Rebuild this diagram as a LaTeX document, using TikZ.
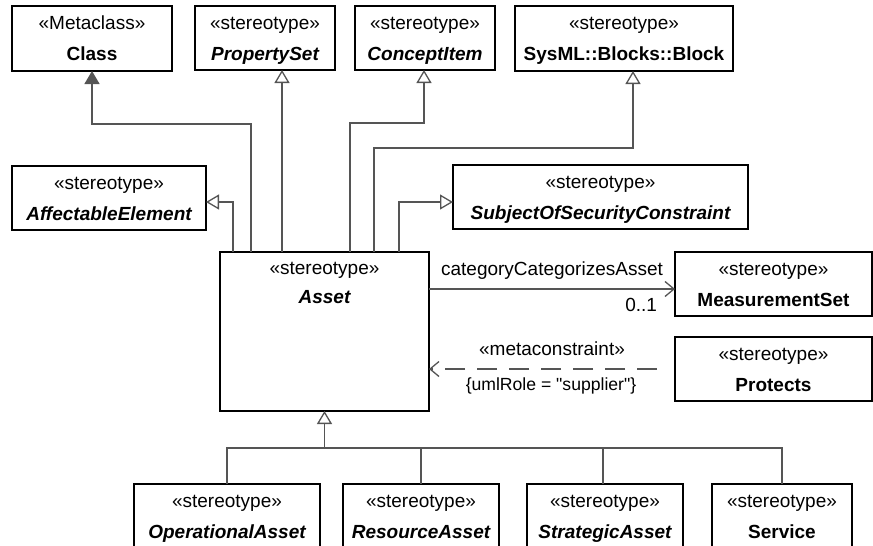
\documentclass[tikz,border=0pt]{standalone}
\usepackage{fontspec}
\setmainfont{Liberation Sans}[Ligatures=TeXOff]
\usetikzlibrary{arrows.meta,calc}
\definecolor{conn}{HTML}{555555}
\tikzset{
  box/.style={draw=black, line width=1.6pt, fill=white, inner sep=0pt, outer sep=0pt, rectangle},
  txt/.style={inner sep=0pt, outer sep=0pt, font=\fontsize{19}{22}\selectfont},
  smalltxt/.style={inner sep=0pt, outer sep=0pt, font=\fontsize{17.6}{20}\selectfont},
  conline/.style={draw=conn, line width=1.3pt},
  gen/.style={conline, -{Triangle[open, length=13pt, width=15pt]}},
  genfill/.style={conline, -{Triangle[length=13pt, width=15pt, fill=conn]}},
  assoc/.style={conline, -{Straight Barb[length=9pt, width=15pt]}},
  dep/.style={conline, dash pattern=on 20pt off 12pt, -{Straight Barb[length=9pt, width=15pt, sep=0pt]}},
}
\newcommand\umlbox[8]{%
  \node[box, minimum width=#4pt, minimum height=#5pt, anchor=north west] (#1) at (#2,#3) {};
  \node[txt, anchor=base] (#1-s) at ([yshift=-23pt]#1.north) {#6};
  \node[txt, anchor=base] (#1-t) at ([yshift=-54pt]#1.north) {\bfseries #8#7};}
\begin{document}
\begin{tikzpicture}[x=1pt, y=-1pt]
\useasboundingbox (0,0) rectangle (873,546);
% boxes
\umlbox{cls}{12}{6}{160}{65}{«Metaclass»}{Class}{}
\umlbox{pset}{195}{6}{140}{64}{«stereotype»}{PropertySet}{\itshape}
\umlbox{citem}{355}{6}{140}{64}{«stereotype»}{ConceptItem}{\itshape}
\umlbox{block}{515}{6}{218}{65}{«stereotype»}{SysML::Blocks::Block}{}
\umlbox{aff}{12}{166}{194}{64}{«stereotype»}{AffectableElement}{\itshape}
\umlbox{subj}{453}{165}{295}{64}{«stereotype»}{SubjectOfSecurityConstraint}{\itshape}
\node[box, minimum width=209pt, minimum height=159pt, anchor=north west] (asset) at (220,252) {};
\node[txt, anchor=base] (asset-s) at ([yshift=-22pt]asset.north) {«stereotype»};
\node[txt, anchor=base] (asset-t) at ([yshift=-51pt]asset.north) {\bfseries\itshape Asset};
\umlbox{meas}{675}{252}{197}{64}{«stereotype»}{MeasurementSet}{}
\umlbox{prot}{675}{337}{197}{64}{«stereotype»}{Protects}{}
\umlbox{op}{134}{484}{186}{80}{«stereotype»}{OperationalAsset}{\itshape}
\umlbox{res}{343}{484}{156}{80}{«stereotype»}{ResourceAsset}{\itshape}
\umlbox{str}{527}{484}{156}{80}{«stereotype»}{StrategicAsset}{\itshape}
\umlbox{srv}{712}{484}{140}{80}{«stereotype»}{Service}{}
% routing points
\coordinate (k1) at (92,124);
\coordinate (k3) at (424,123);
\coordinate (k4) at (633,148);
\coordinate (bus) at (324.5,448);
\coordinate (pe) at (657,369);
\coordinate (mw) at ([yshift=-5pt]meas.west);
% generalizations upward
\draw[genfill] ([xshift=31pt]asset.north west) |- (k1) -- (cls.south);
\draw[gen] ([xshift=62pt]asset.north west) -- ([xshift=87pt]pset.south west);
\draw[gen] ([xshift=130pt]asset.north west) |- (k3) -- (k3 |- citem.south);
\draw[gen] ([xshift=154pt]asset.north west) |- (k4) -- (k4 |- block.south);
\draw[gen] ([xshift=13pt]asset.north west) |- ([yshift=-4pt]aff.east);
\draw[gen] ([xshift=179pt]asset.north west) |- ([yshift=-5pt]subj.west);
% association
\draw[assoc] (asset.east |- mw) -- (mw);
\node[txt, anchor=base] (lab1) at (552,275) {categoryCategorizesAsset};
\node[txt, anchor=base east] (mult) at (657,311) {0..1};
% dependency
\draw[dep] (pe) -- (asset.east |- pe);
\node[txt, anchor=base] (lab2) at (552,355) {«metaconstraint»};
\node[smalltxt, anchor=base] (lab3) at (551,390) {\{umlRole = "supplier"\}};
% generalizations downward
\draw[conline] (op.north) |- (bus) -| (srv.north);
\draw[conline] (res.north) -- (res.north |- bus);
\draw[conline] ([xshift=-2pt]str.north) -- ([xshift=-2pt]str.north |- bus);
\draw[gen] (bus) -- (asset.south);
\end{tikzpicture}
\end{document}
